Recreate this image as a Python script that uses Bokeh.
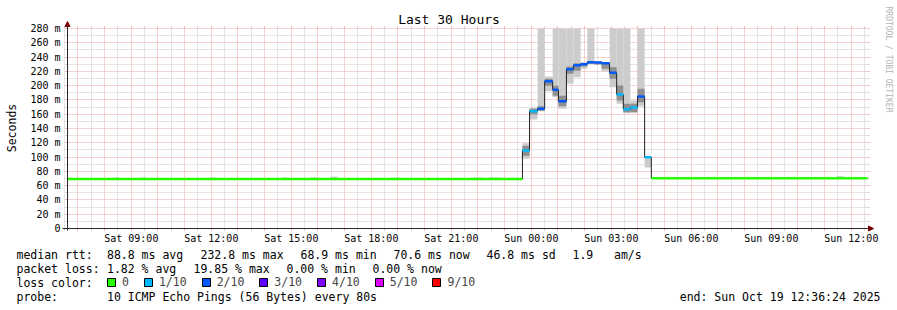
import math
from bokeh.plotting import figure
from bokeh.models import (Range1d, LinearAxis, FixedTicker, Grid, Arrow, NormalHead,
                          Label, Legend, LegendItem)
from bokeh.embed import file_html
from bokeh.resources import INLINE

# ---------------- data ----------------
START = "Sat 06:36:24"
END = "Sun 12:36:24"

Y_TICKS = [0, 20, 40, 60, 80, 100, 120, 140, 160, 180, 200, 220, 240, 260, 280]
Y_TICK_LABELS = ["0", "20 m", "40 m", "60 m", "80 m", "100 m", "120 m", "140 m",
                 "160 m", "180 m", "200 m", "220 m", "240 m", "260 m", "280 m"]
X_TICK_TIMES = ["Sat 09:00", "Sat 12:00", "Sat 15:00", "Sat 18:00", "Sat 21:00",
                "Sun 00:00", "Sun 03:00", "Sun 06:00", "Sun 09:00", "Sun 12:00"]

# quiet stretches (no loss)
FLAT_START = ["Sat 06:36:24", "Sun 04:30"]
FLAT_END = ["Sat 23:40", "Sun 12:36:24"]
FLAT_MEDIAN = [69.2, 70.5]

# busy stretch, one entry per step
SPIKE_START = ["Sat 23:40", "Sat 23:56", "Sun 00:14", "Sun 00:30", "Sun 00:48", "Sun 01:01",
               "Sun 01:19", "Sun 01:35", "Sun 01:51", "Sun 02:06", "Sun 02:22", "Sun 02:38",
               "Sun 02:56", "Sun 03:12", "Sun 03:27", "Sun 03:43", "Sun 03:59", "Sun 04:15"]
SPIKE_MEDIAN = [109.2, 164.3, 167.5, 206.3, 194.1, 178.3, 223.0, 228.7, 230.0, 232.8, 232.4, 231.5,
                217.9, 187.6, 167.0, 169.4, 184.8, 99.6]
SPIKE_LOSS = [1, 1, 2, 2, 2, 2, 2, 2, 2, 2, 2, 2, 2, 1, 1, 1, 2, 1]
SMOKE_MIN = [97.5, 152.6, 164.0, 192.3, 183.9, 167.5, 202.5, 211.9, 223.5, 230.5, 229.1, 220.3,
             197.9, 174.5, 161.5, 161.5, 170.8, 85.5]
SMOKE_MAX = [119.5, 169.0, 330.0, 212.8, 310.0, 305.0, 320.0, 340.0, 232.9, 300.0, 234.3, 232.9,
             315.0, 325.0, 300.0, 179.2, 310.0, 99.8]
INNER_MIN = [102.0, 159.6, 165.0, 200.0, 186.0, 171.0, 216.5, 221.0, 226.8, 230.5, 229.5, 223.5,
             209.5, 179.2, 162.9, 163.0, 176.9, 99.6]
INNER_MAX = [116.0, 167.5, 171.0, 209.5, 200.0, 186.0, 226.8, 231.5, 231.5, 234.3, 234.0, 231.5,
             225.9, 200.2, 174.5, 174.5, 195.5, 99.6]

# small bits of smoke above the quiet line
BLIP_START = ["Sat 08:20", "Sat 09:23", "Sat 11:58", "Sat 14:40", "Sat 15:43", "Sat 16:28",
              "Sat 18:54", "Sat 21:52", "Sat 22:24", "Sat 23:09", "Sun 09:21", "Sun 11:27", "Sun 11:43"]
BLIP_END = ["Sat 08:32", "Sat 09:34", "Sat 12:12", "Sat 14:51", "Sat 15:57", "Sat 16:44",
            "Sat 19:06", "Sat 22:08", "Sat 22:51", "Sat 23:27", "Sun 09:34", "Sun 11:43", "Sun 12:00"]
BLIP_MAX = [71.5, 71.5, 71.5, 71.5, 71.5, 72.5, 71.5, 71.5, 71.5, 71.0, 72.0, 73.0, 72.0]

LOSS_LEVELS = [0, 1, 2, 3, 4, 5, 9]
LOSS_LABELS = ["0", "1/10", "2/10", "3/10", "4/10", "5/10", "9/10"]
LOSS_COLORS = ["#26ff00", "#00b8ff", "#0059ff", "#5e00ff", "#7e00ff", "#dd00ff", "#ff0000"]

TITLE = "Last 30 Hours"
Y_LABEL = "Seconds"
WATERMARK = "RRDTOOL / TOBI OETIKER"
STATS_RTT = ["median rtt:", "88.8 ms avg", "232.8 ms max", "68.9 ms min", "70.6 ms now",
             "46.8 ms sd", "1.9", "am/s"]
STATS_LOSS = ["packet loss:", "1.82 % avg", "19.85 % max", "0.00 % min", "0.00 % now"]
LOSS_TITLE = "loss color:"
PROBE = ["probe:", "10 ICMP Echo Pings (56 Bytes) every 80s"]
END_TEXT = "end: Sun Oct 19 12:36:24 2025"

# ---------------- helpers ----------------
def hours(stamp):
    day, hms = stamp.split()
    parts = [int(v) for v in hms.split(":")]
    while len(parts) < 3:
        parts.append(0)
    return parts[0] + parts[1] / 60 + parts[2] / 3600 + (24 if day == "Sun" else 0)

W, H = 897, 310
X0, X1 = hours(START), hours(END)
FL, FT, FW, FH = 67, 28, 800, 200   # plot area placement in the window
Y_MAX = 280
XS = (X1 - X0) / FW                 # hours per pixel
YS = Y_MAX / FH                     # ms per pixel

def dx(px):
    return X0 + (px - FL) * XS

def dy(py):
    return (FT + FH - py) * YS

FONT = "DejaVu Sans Mono"
GRID_C = "#c8c8c8"
MGRID_C = "#eda5a5"
AXIS_C = "#2a2a2a"
ARROW_C = "#7f0000"

p = figure(width=W, height=H, x_range=Range1d(dx(0), dx(W)), y_range=Range1d(dy(H), dy(0)),
           output_backend="svg", toolbar_location=None,
           x_axis_location=None, y_axis_location=None, min_border=0,
           min_border_left=0, min_border_right=0, min_border_top=0, min_border_bottom=0,
           outline_line_color=None, background_fill_color="white", border_fill_color="white")
p.xgrid.visible = False
p.ygrid.visible = False

x_major = list(range(7, 37))
x_minor = [h + 0.5 for h in range(6, 37)]
xticker = FixedTicker(ticks=x_major, minor_ticks=x_minor)
y_minor = [v + 10 for v in Y_TICKS[:-1]]
yticker = FixedTicker(ticks=Y_TICKS, minor_ticks=y_minor)

x_over = {h: "" for h in x_major}
for t in X_TICK_TIMES:
    x_over[int(round(hours(t)))] = t
y_over = {v: l for v, l in zip(Y_TICKS, Y_TICK_LABELS)}

def make_axis(ticker, overrides, loc, labels=True, standoff=5):
    ax = LinearAxis(ticker=ticker, fixed_location=loc, major_label_overrides=overrides,
                    axis_line_color=None,
                    major_tick_in=0, major_tick_out=2, major_tick_line_color=MGRID_C,
                    minor_tick_in=0, minor_tick_out=2, minor_tick_line_color=GRID_C,
                    major_label_standoff=standoff, major_label_text_font=FONT,
                    major_label_text_font_size="10px", major_label_text_color="black")
    if not labels:
        ax.major_label_text_font_size = "0px"
        ax.major_label_standoff = 0
    return ax

p.add_layout(make_axis(xticker, x_over, 0, standoff=2), "below")
p.add_layout(make_axis(yticker, y_over, X0, standoff=5), "left")
p.add_layout(make_axis(xticker, {h: "" for h in x_major}, Y_MAX, labels=False), "above")
p.add_layout(make_axis(yticker, {v: "" for v in Y_TICKS}, X1, labels=False), "right")

for dim, tk, cb in ((0, xticker, (0, Y_MAX)), (1, yticker, (X0, X1))):
    g = Grid(dimension=dim, ticker=tk, grid_line_color=MGRID_C, grid_line_dash="1 1",
             grid_line_width=1, minor_grid_line_color=GRID_C, minor_grid_line_dash="1 1",
             minor_grid_line_width=1, cross_bounds=cb)
    p.add_layout(g)

# smoke (the plot area stops at Y_MAX)
spike_end = SPIKE_START[1:] + [FLAT_START[1]]
sl = [hours(s) for s in SPIKE_START]
sr = [hours(s) for s in spike_end]
p.quad(left=sl, right=sr, bottom=SMOKE_MIN, top=[min(v, Y_MAX) for v in SMOKE_MAX],
       fill_color="#cccccc", line_color=None)
p.quad(left=sl, right=sr, bottom=INNER_MIN, top=INNER_MAX, fill_color="#8f8f8f", line_color=None)
spike_t0 = hours(SPIKE_START[0])
blip_bottom = [FLAT_MEDIAN[0] if hours(s) < spike_t0 else FLAT_MEDIAN[1] for s in BLIP_START]
p.quad(left=[hours(s) for s in BLIP_START], right=[hours(s) for s in BLIP_END],
       bottom=blip_bottom, top=BLIP_MAX, fill_color="#c4c4c4", line_color=None)

# median as a dark step line
step_x = [hours(FLAT_START[0])] + sl + [hours(FLAT_START[1]), hours(FLAT_END[1])]
step_y = [FLAT_MEDIAN[0]] + SPIKE_MEDIAN + [FLAT_MEDIAN[1], FLAT_MEDIAN[1]]
p.step(step_x, step_y, mode="after", line_color="#202020", line_width=1)

# loss-coloured median pieces
seg_x0 = [hours(s) for s in FLAT_START] + sl
seg_x1 = [hours(s) for s in FLAT_END] + sr
seg_y = FLAT_MEDIAN + SPIKE_MEDIAN
seg_c = [LOSS_COLORS[0]] * len(FLAT_START) + [LOSS_COLORS[LOSS_LEVELS.index(l)] for l in SPIKE_LOSS]
p.segment(x0=seg_x0, x1=seg_x1, y0=seg_y, y1=seg_y, line_color=seg_c, line_width=2.5,
          line_cap="butt")

# legend squares (legend-only renderers: one undrawable row each)
nan = float("nan")
items = []
for lab, col in zip(LOSS_LABELS, LOSS_COLORS):
    r = p.quad(left=[nan], right=[nan], top=[nan], bottom=[nan], fill_color=col,
               line_color="black", line_width=1)
    items.append(LegendItem(label=lab, renderers=[r], index=0))
legend = Legend(items=items, orientation="horizontal", location=(106, H - 289),
                glyph_width=10, glyph_height=10, label_standoff=6, spacing=14, padding=0,
                margin=0, border_line_color=None, background_fill_alpha=0,
                label_text_font=FONT, label_text_font_size="11.5px", label_height=10,
                label_width=0)
p.add_layout(legend)

# axis lines with arrows
p.add_layout(Arrow(x_start=dx(62), y_start=0, x_end=dx(873), y_end=0,
                   line_color=AXIS_C, line_width=1,
                   end=NormalHead(size=5, fill_color=ARROW_C, line_color=ARROW_C, line_width=1)))
p.add_layout(Arrow(x_start=X0, y_start=dy(230), x_end=X0, y_end=dy(21),
                   line_color=AXIS_C, line_width=1,
                   end=NormalHead(size=5, fill_color=ARROW_C, line_color=ARROW_C, line_width=1)))

def label(px, py, text, size="11.5px", align="left", angle=0.0, color="black"):
    p.add_layout(Label(x=dx(px), y=dy(py), text=text, text_font=FONT, text_font_size=size,
                       text_align=align, text_baseline="middle", angle=angle,
                       text_color=color))

label(448.5, 19, TITLE, size="13px", align="center")
label(11, 127.5, Y_LABEL, align="center", angle=math.pi / 2)
label(887.5, 59, WATERMARK, size="8px", align="center", angle=-math.pi / 2, color="#b4b4b4")
for txt, x in zip(STATS_RTT, [16, 106.5, 200, 300, 393, 486, 572, 613.5]):
    label(x, 254, txt)
for txt, x in zip(STATS_LOSS, [16, 106.5, 193, 286, 372]):
    label(x, 268, txt)
label(16, 282.5, LOSS_TITLE)
for txt, x in zip(PROBE, [16, 106.5]):
    label(x, 296.5, txt)
label(880, 296.5, END_TEXT, align="right")

open("out.html", "w").write(file_html(p, INLINE))
